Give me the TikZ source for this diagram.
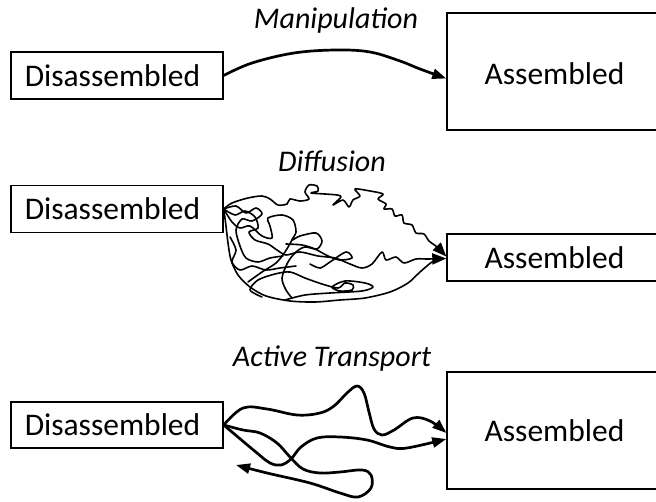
\documentclass[tikz,border=0pt]{standalone}
\usepackage{fontspec}
\setmainfont{Carlito}
\usetikzlibrary{arrows.meta}
\tikzset{
  box/.style={draw, line width=1.4pt, inner sep=0pt, minimum width=#1,
    font=\fontsize{31.5pt}{36pt}\selectfont},
  box/.default=212pt,
  lbl/.style={inner sep=0pt, anchor=base, font=\fontsize{30pt}{35pt}\selectfont\itshape},
  thickarrow/.style={line width=2.7pt, -{Triangle[length=14pt,width=10pt]}},
  scribble/.style={line width=1.6pt, line join=round, line cap=round},
  scribblearrow/.style={scribble, -{Triangle[length=14pt,width=11pt]}}
}
\newcommand{\dis}{\hspace*{-9pt}Disassembled}
\begin{document}
\begin{tikzpicture}[x=1pt,y=-1pt]
\useasboundingbox (0,0) rectangle (656,502);

% ---------- Manipulation ----------
\node[box, minimum height=47pt] (d1) at (117,75.5) {\dis};
\node[box=215pt, minimum height=117pt, text height=27pt] (a1) at (554.5,71.5) {Assembled};
\node[lbl] (m) at (336,29) {Manipulation};
\draw[thickarrow] plot[smooth, tension=0.6] coordinates
  {(d1.east) (252,63) (294,53) (336,50) (370,52) (400,61) (420,69) ([yshift=-7pt]a1.west)};

% ---------- Diffusion ----------
\node[box, minimum height=47.5pt] (d2) at (117,209) {\dis};
\node[box=215pt, minimum height=47pt] (a2) at (554.5,257.5) {Assembled};
\node[lbl] (df) at (332,172) {Diffusion};

\draw[scribblearrow] plot[smooth, tension=0.5] coordinates
  {(d2.east) (232,203) (248,198) (262,196) (270,199) (278,205) (287,204) (290,199)
   (300,201) (309,199) (305,192) (309,185) (317,186) (318,191) (311,193) (325,194)
   (337,195) (341,197) (333,205) (343,200) (349,207) (353,200) (360,196) (355,189)
   (370,191) (383,194) (378,199) (386,204) (384,209) (392,209) (395,216) (402,215)
   (404,223) (412,225) (416,233) (424,234) (429,241) (437,247) ([yshift=1pt]a2.west)};
\draw[scribblearrow] plot[smooth, tension=0.5] coordinates
  {(d2.east) (235,215) (245,211) (255,217) (258,228) (249,232) (255,240) (268,244)
   (277,250) (286,255) (300,252) (318,256) (335,258) (350,264) (362,268) (372,264)
   (382,252) (386,260) (396,257) (404,263) (416,259) (428,259) ([yshift=-1pt]a2.west)};
\draw[scribble] plot[smooth, tension=0.5] coordinates
  {(d2.east) (232,222) (240,228) (250,226) (262,236) (272,238) (270,226) (268,218)
   (282,215) (293,220) (296,232) (292,240) (300,236) (316,233) (322,241) (317,249)
   (305,247) (296,252) (288,262) (282,278) (286,290) (292,298)};
\draw[scribble] plot[smooth, tension=0.5] coordinates
  {(d2.east) (226,226) (228,243) (231,260) (238,275) (250,287) (266,296) (290,301)
   (315,302) (340,300) (365,298) (390,292) (408,283) (420,272) (432,262) (441,258)};
\draw[scribble] plot[smooth, tension=0.5] coordinates
  {(262,297) (250,290) (258,280) (275,274) (290,272) (305,278) (322,284) (338,288)
   (345,283) (353,285) (352,290) (340,291) (332,287) (345,281) (365,283) (373,287)
   (362,291) (330,293) (305,295) (285,300)};
\draw[scribble] plot[smooth, tension=0.5] coordinates
  {(292,240) (285,252) (276,263) (262,272) (248,282)};
\draw[scribble] plot[smooth, tension=0.5] coordinates
  {(286,244) (302,245) (315,249) (328,256) (340,260) (352,258) (346,252) (330,262)
   (320,268) (310,264)};
\draw[scribble] plot[smooth, tension=0.5] coordinates
  {(d2.east) (236,206) (246,213) (256,208) (262,214) (252,221) (242,219) (236,230)
   (240,246) (246,258) (258,262) (270,258) (283,256)};
\draw[scribble] plot[smooth, tension=0.5] coordinates
  {(230,237) (236,250) (232,262) (240,270) (252,266) (266,270) (280,268) (296,266)};

% ---------- Active Transport ----------
\node[box, minimum height=46pt] (d3) at (117,425) {\dis};
\node[box=215pt, minimum height=117pt] (a3) at (554.5,430.5) {Assembled};
\node[lbl] (at) at (332,367) {Active Transport};
\coordinate (back) at (236,465);

\draw[thickarrow] plot[smooth, tension=0.6] coordinates
  {(d3.east) (243,408) (267,409) (297,415) (320,413) (334,406) (347,393) (357,386)
   (364,393) (369,412) (374,429) (382,435) (394,430) (413,418) (430,421)
   ([yshift=-2.5pt]a3.west)};
\draw[thickarrow] plot[smooth, tension=0.6] coordinates
  {(d3.east) (257,453) (270,463) (281,465) (291,459) (301,447) (317,438) (340,437)
   (367,440) (390,447) (407,448) ([yshift=-8.5pt]a3.west)};
\draw[thickarrow] plot[smooth, tension=0.6] coordinates
  {(d3.east) (243,430) (260,433) (277,443) (290,457) (303,469) (320,473) (340,472)
   (362,470) (371,475) (371,488) (358,497) (340,493) (310,483) (267,473) (back)};
\end{tikzpicture}
\end{document}
